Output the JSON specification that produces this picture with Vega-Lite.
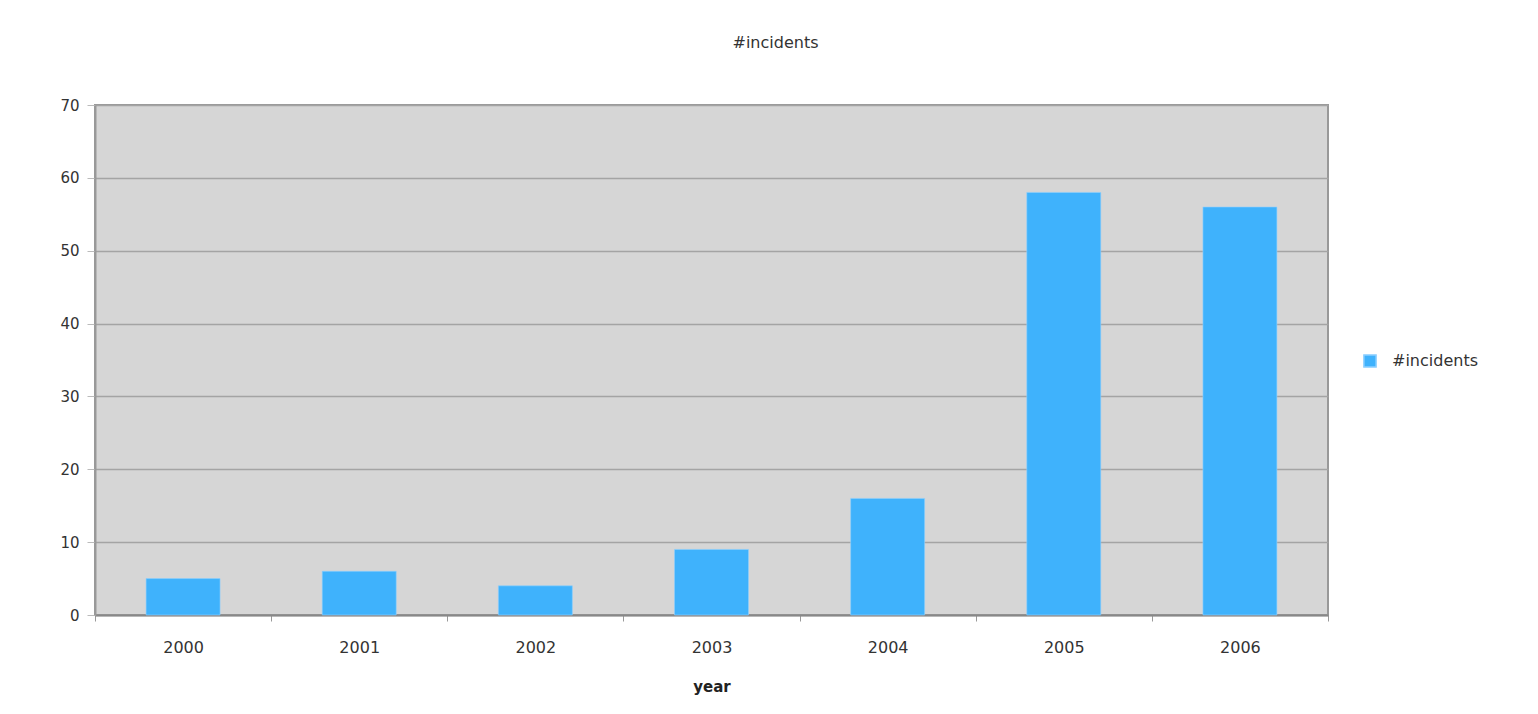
{
  "$schema": "https://vega.github.io/schema/vega-lite/v6.json",
  "autosize": {"type": "none"},
  "width": 1233,
  "height": 510,
  "padding": {"left": 95, "top": 105, "right": 210, "bottom": 99},
  "background": "#ffffff",
  "title": {
    "text": "#incidents",
    "fontSize": 16,
    "fontWeight": "normal",
    "font": "DejaVu Sans",
    "color": "#333333",
    "anchor": "middle",
    "offset": 47,
    "dx": 64
  },
  "data": {
    "values": [
      {"year": "2000", "incidents": 5, "series": "#incidents"},
      {"year": "2001", "incidents": 6, "series": "#incidents"},
      {"year": "2002", "incidents": 4, "series": "#incidents"},
      {"year": "2003", "incidents": 9, "series": "#incidents"},
      {"year": "2004", "incidents": 16, "series": "#incidents"},
      {"year": "2005", "incidents": 58, "series": "#incidents"},
      {"year": "2006", "incidents": 56, "series": "#incidents"}
    ]
  },
  "mark": {"type": "bar", "width": {"band": 0.42}, "stroke": "#8fd0ff", "strokeWidth": 1, "strokeOpacity": 0.6},
  "encoding": {
    "x": {
      "field": "year",
      "type": "nominal",
      "sort": null,
      "scale": {"paddingInner": 0, "paddingOuter": 0},
      "axis": {
        "title": "year",
        "titleFont": "DejaVu Sans",
        "titleFontSize": 15,
        "titleFontWeight": "bold",
        "titleColor": "#222222",
        "titlePadding": 24,
        "labelAngle": 0,
        "labelFont": "DejaVu Sans",
        "labelFontSize": 16,
        "labelColor": "#333333",
        "labelPadding": 18,
        "tickBand": "extent",
        "tickSize": 6,
        "tickColor": "#999999",
        "domainColor": "#888888",
        "domainWidth": 2,
        "grid": false
      }
    },
    "y": {
      "field": "incidents",
      "type": "quantitative",
      "scale": {"domain": [0, 70], "nice": false},
      "axis": {
        "title": null,
        "values": [0, 10, 20, 30, 40, 50, 60, 70],
        "labelFont": "DejaVu Sans",
        "labelFontSize": 15,
        "labelColor": "#333333",
        "labelPadding": 8,
        "tickSize": 8,
        "tickColor": "#bbbbbb",
        "domainColor": "#999999",
        "domainWidth": 2,
        "grid": true,
        "gridColor": "#a4a4a4",
        "gridWidth": 1.5
      }
    },
    "color": {
      "field": "series",
      "type": "nominal",
      "scale": {"range": ["#3fb2fc"]},
      "legend": {
        "title": null,
        "orient": "none",
        "legendX": 1267,
        "legendY": 248,
        "symbolType": "square",
        "symbolSize": 150,
        "labelFont": "DejaVu Sans",
        "labelFontSize": 16,
        "labelColor": "#333333",
        "labelOffset": 14
      }
    }
  },
  "config": {
    "view": {"fill": "#d6d6d6", "stroke": "#999999", "strokeWidth": 2}
  }
}
